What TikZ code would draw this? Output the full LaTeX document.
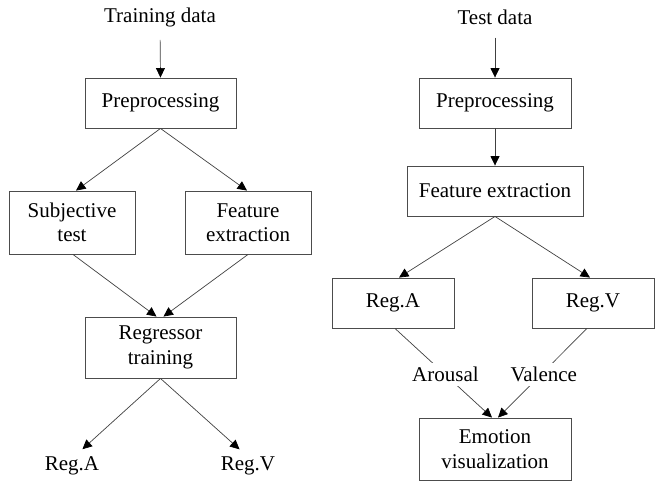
\documentclass[tikz,border=0pt]{standalone}
\usepackage{fontspec}
\setmainfont{Liberation Serif}
\usetikzlibrary{arrows.meta}
\begin{document}
\begin{tikzpicture}[x=1pt,y=-1pt,
  every node/.style={font=\fontsize{21}{24.5}\selectfont},
  box/.style={draw=black!70,line width=0.9pt,align=center,inner sep=0pt},
  txt/.style={inner sep=0pt,align=center},
  lbl/.style={fill=white,inner xsep=1pt,inner ysep=4pt},
  arr/.style={draw=black!75,line width=0.7pt,-{Triangle[length=9.5pt,width=9pt,color=black]}}]
\useasboundingbox (0,0) rectangle (655,483);
% left column
\node[txt] (td) at (160,17) {Training data};
\node[box,minimum width=151,minimum height=50] (pp1) at (160.5,103) {Preprocessing};
\node[box,minimum width=126,minimum height=63] (st) at (72,222.5) {Subjective\\test};
\node[box,minimum width=126,minimum height=63] (fe1) at (248,222.5) {Feature\\extraction};
\node[box,minimum width=151,minimum height=61] (rt) at (160.5,347.5) {Regressor\\training};
\node[txt,anchor=base] (ra1) at (72,470) {Reg.A};
\node[txt,anchor=base] (rv1) at (248,470) {Reg.V};
\draw[arr,shorten <=13pt] (td.south) -- (pp1.north);
\draw[arr] (pp1.south) -- ([xshift=4pt]st.north);
\draw[arr] (pp1.south) -- ([xshift=-1pt]fe1.north);
\draw[arr] ([xshift=1pt]st.south) -- ([xshift=-4pt]rt.north);
\draw[arr] (fe1.south) -- ([xshift=3pt]rt.north);
\draw[arr,shorten >=10pt] (rt.south) -- ([xshift=3pt]ra1.north);
\draw[arr,shorten >=10pt] (rt.south) -- ([xshift=-1pt]rv1.north);
% right column
\node[txt] (tsd) at (495,17) {Test data};
\node[box,minimum width=152,minimum height=50] (pp2) at (495,103) {Preprocessing};
\node[box,minimum width=176,minimum height=50] (fe2) at (495,191) {Feature extraction};
\node[box,minimum width=122,minimum height=50] (ra2) at (393,303) {Reg.A};
\node[box,minimum width=122,minimum height=50] (rv2) at (593,303) {Reg.V};
\node[box,minimum width=152,minimum height=62] (emo) at (495,449) {Emotion\\visualization};
\draw[arr,shorten <=13pt] (tsd.south) -- (pp2.north);
\draw[arr] (pp2.south) -- (fe2.north);
\draw[arr] (fe2.south) -- ([xshift=6pt]ra2.north);
\draw[arr] (fe2.south) -- ([xshift=-3pt]rv2.north);
\draw[arr] ([xshift=2pt]ra2.south) -- node[lbl,pos=0.52] (ar) {Arousal} ([xshift=-3pt]emo.north);
\draw[arr] ([xshift=-6pt]rv2.south) -- node[lbl,pos=0.52,xshift=3pt] (va) {Valence} ([xshift=3pt]emo.north);
\end{tikzpicture}
\end{document}
